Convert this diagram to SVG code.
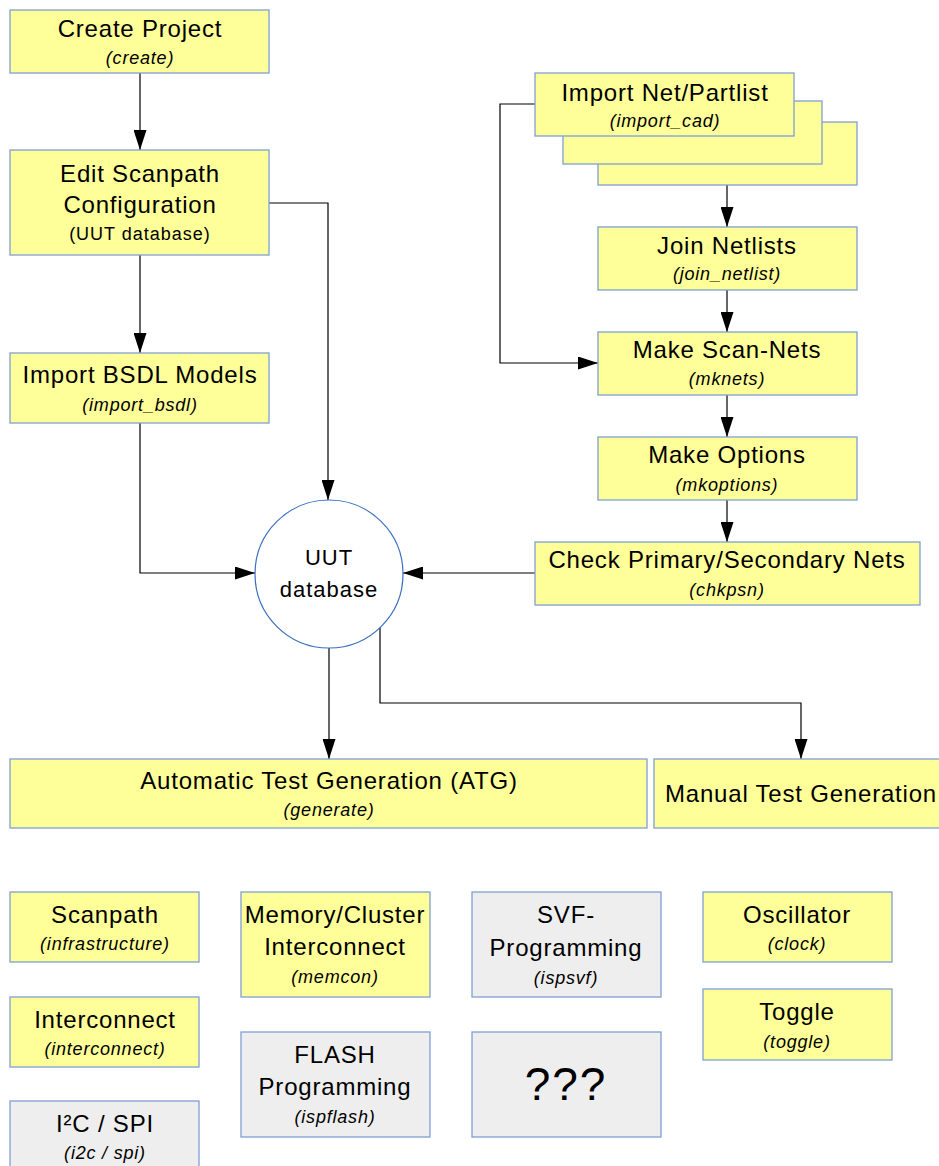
<svg xmlns="http://www.w3.org/2000/svg" width="939" height="1166" viewBox="0 0 939 1166">
<defs>
<style>
.y{fill:#ffff99;stroke:#7f9fd5;stroke-width:1.3}
.g{fill:#eeeeee;stroke:#7f9fd5;stroke-width:1.3}
.t{font-family:"Liberation Sans",Arial,sans-serif;font-size:24px;letter-spacing:0.8px;fill:#000;text-anchor:middle}
.s{font-family:"Liberation Sans",Arial,sans-serif;font-size:18px;letter-spacing:0.8px;font-style:italic;fill:#000;text-anchor:middle}
.n{font-family:"Liberation Sans",Arial,sans-serif;font-size:18px;letter-spacing:1px;fill:#000;text-anchor:middle}
.c{fill:none;stroke:#000;stroke-width:1.2}
</style>
<marker id="ah" markerUnits="userSpaceOnUse" markerWidth="20" markerHeight="13" refX="20" refY="6.5" orient="auto" viewBox="0 0 20 13">
<path d="M0,0 L20,6.5 L0,13 Z" fill="#000"/>
</marker>
</defs>
<g id="connectors">
<path class="c" d="M140,73 V150" marker-end="url(#ah)"/>
<path class="c" d="M140,255 V353" marker-end="url(#ah)"/>
<path class="c" d="M269,203 H328 V500" marker-end="url(#ah)"/>
<path class="c" d="M140,423 V573 H255" marker-end="url(#ah)"/>
<path class="c" d="M535,104 H500 V363 H598" marker-end="url(#ah)"/>
<path class="c" d="M727,185 V227" marker-end="url(#ah)"/>
<path class="c" d="M727,290 V332" marker-end="url(#ah)"/>
<path class="c" d="M727,395 V437" marker-end="url(#ah)"/>
<path class="c" d="M727,500 V542" marker-end="url(#ah)"/>
<path class="c" d="M535,573 H403" marker-end="url(#ah)"/>
<path class="c" d="M329,648 V759" marker-end="url(#ah)"/>
<path class="c" d="M380,627 V703 H801 V759" marker-end="url(#ah)"/>
</g>
<g id="create"><rect class="y" x="10" y="10" width="259" height="63"/><text class="t" x="140" y="37">Create Project</text><text class="s" x="140" y="64">(create)</text></g>
<g id="edit"><rect class="y" x="10" y="150" width="259" height="105"/><text class="t" x="140" y="182">Edit Scanpath</text><text class="t" x="140" y="213">Configuration</text><text class="n" x="140" y="240">(UUT database)</text></g>
<g id="bsdl"><rect class="y" x="10" y="353" width="259" height="70"/><text class="t" x="140" y="383">Import BSDL Models</text><text class="s" x="140" y="411">(import_bsdl)</text></g>
<g id="importcad">
<rect class="y" x="598" y="122" width="259" height="63"/>
<rect class="y" x="563" y="101" width="259" height="63"/>
<rect class="y" x="535" y="73" width="259" height="63"/>
<text class="t" x="665" y="101">Import Net/Partlist</text><text class="s" x="665" y="127">(import_cad)</text></g>
<g id="join"><rect class="y" x="598" y="227" width="259" height="63"/><text class="t" x="727" y="254">Join Netlists</text><text class="s" x="727" y="280">(join_netlist)</text></g>
<g id="mknets"><rect class="y" x="598" y="332" width="259" height="63"/><text class="t" x="727" y="358">Make Scan-Nets</text><text class="s" x="727" y="385">(mknets)</text></g>
<g id="mkoptions"><rect class="y" x="598" y="437" width="259" height="63"/><text class="t" x="727" y="463">Make Options</text><text class="s" x="727" y="491">(mkoptions)</text></g>
<g id="chkpsn"><rect class="y" x="535" y="542" width="385" height="63"/><text class="t" x="727" y="568">Check Primary/Secondary Nets</text><text class="s" x="727" y="596">(chkpsn)</text></g>
<g id="uut"><circle cx="329" cy="574" r="74" fill="#fff" stroke="#3a6fbf" stroke-width="1.2"/><text class="t" x="329" y="565" style="font-size:22px;letter-spacing:1px">UUT</text><text class="t" x="329" y="597" style="font-size:22px;letter-spacing:1px">database</text></g>
<g id="atg"><rect class="y" x="10" y="759" width="637" height="69"/><text class="t" x="329" y="789">Automatic Test Generation (ATG)</text><text class="s" x="329" y="816">(generate)</text></g>
<g id="manual"><rect class="y" x="654" y="759" width="300" height="69"/><text class="t" x="801" y="802">Manual Test Generation</text></g>
<g id="scanpath"><rect class="y" x="10" y="892" width="189" height="70"/><text class="t" x="105" y="923">Scanpath</text><text class="s" x="105" y="950">(infrastructure)</text></g>
<g id="interconnect"><rect class="y" x="10" y="997" width="189" height="70"/><text class="t" x="105" y="1028">Interconnect</text><text class="s" x="105" y="1055">(interconnect)</text></g>
<g id="i2c"><rect class="g" x="10" y="1101" width="189" height="80"/><text class="t" x="105" y="1132">I²C / SPI</text><text class="s" x="105" y="1159">(i2c / spi)</text></g>
<g id="memcon"><rect class="y" x="241" y="892" width="189" height="105"/><text class="t" x="335" y="923">Memory/Cluster</text><text class="t" x="335" y="955">Interconnect</text><text class="s" x="335" y="983">(memcon)</text></g>
<g id="ispflash"><rect class="g" x="241" y="1032" width="189" height="105"/><text class="t" x="335" y="1063">FLASH</text><text class="t" x="335" y="1095">Programming</text><text class="s" x="335" y="1123">(ispflash)</text></g>
<g id="ispsvf"><rect class="g" x="472" y="892" width="189" height="105"/><text class="t" x="566" y="923">SVF-</text><text class="t" x="566" y="956">Programming</text><text class="s" x="566" y="984">(ispsvf)</text></g>
<g id="unknown"><rect class="g" x="472" y="1032" width="189" height="105"/><text class="t" x="566" y="1100" style="font-size:46px;letter-spacing:2px">???</text></g>
<g id="clock"><rect class="y" x="703" y="892" width="189" height="70"/><text class="t" x="797" y="923">Oscillator</text><text class="s" x="797" y="950">(clock)</text></g>
<g id="toggle"><rect class="y" x="703" y="989" width="189" height="71"/><text class="t" x="797" y="1020">Toggle</text><text class="s" x="797" y="1048">(toggle)</text></g>
</svg>
